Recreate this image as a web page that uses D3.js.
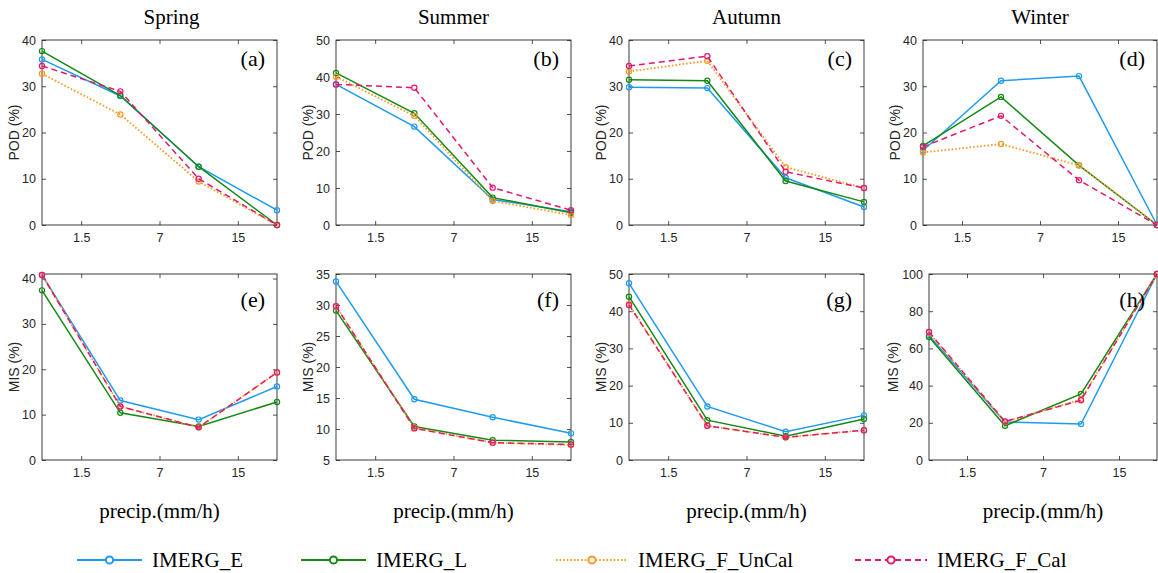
<!DOCTYPE html>
<html>
<head>
<meta charset="utf-8">
<script src="https://cdn.jsdelivr.net/npm/d3@7"></script>
<style>
  body { margin: 0; background: #fff; }
  .tick text { font-family: "Liberation Sans", Arial, sans-serif; font-size: 12.5px; fill: #262626; }
  .tick line { stroke: #262626; stroke-width: 0.8; }
  .serif { font-family: "Liberation Serif", "Times New Roman", serif; fill: #000; }
</style>
</head>
<body>
<script>
const seasons = ['Spring', 'Summer', 'Autumn', 'Winter'];
const panelTags = [['(a)', '(b)', '(c)', '(d)'], ['(e)', '(f)', '(g)', '(h)']];
const thresholds = ['1.5', '7', '15'];
const seriesNames = ['IMERG_E', 'IMERG_L', 'IMERG_F_UnCal', 'IMERG_F_Cal'];

// POD (%) per season, 4 precip classes each
const podE     = [[35.8, 27.9, 12.6, 3.2], [38.0, 26.6, 6.9, 3.6], [29.8, 29.6, 10.2, 3.9], [16.1, 31.2, 32.2, 0]];
const podL     = [[37.6, 28.0, 12.6, 0],   [41.1, 30.2, 7.4, 3.3], [31.4, 31.2, 9.5, 5.0],  [17.1, 27.7, 12.9, 0]];
const podUnCal = [[32.7, 23.9, 9.4, 0],    [40.1, 29.5, 6.5, 2.7], [33.2, 35.5, 12.5, 8.0], [15.7, 17.5, 12.9, 0]];
const podCal   = [[34.4, 28.9, 10.0, 0],   [38.0, 37.1, 10.1, 4.0], [34.4, 36.5, 11.5, 8.0], [16.9, 23.6, 9.7, 0]];

// MIS (%)
const misE     = [[40.8, 13.1, 8.9, 16.2], [33.8, 14.8, 11.9, 9.3], [47.5, 14.4, 7.6, 12.0], [67.0, 20.4, 19.3, 100]];
const misL     = [[37.4, 10.4, 7.4, 12.8], [29.1, 10.4, 8.2, 7.9],  [43.9, 10.7, 6.4, 11.0], [66.1, 18.4, 35.5, 100]];
const misUnCal = [[40.8, 11.8, 7.2, 19.3], [29.8, 10.2, 7.8, 7.4],  [41.9, 9.2, 6.1, 8.0],   [68.5, 20.4, 32.6, 100]];
const misCal   = [[40.8, 11.8, 7.2, 19.3], [29.8, 10.1, 7.8, 7.5],  [41.7, 9.2, 6.1, 8.0],   [68.8, 20.7, 32.1, 100]];

const podDomains = [[0, 40], [0, 50], [0, 40], [0, 40]];
const misDomains = [[0, 41], [5, 35], [0, 50], [0, 100]];
const podTicks = [[0, 10, 20, 30, 40], [0, 10, 20, 30, 40, 50], [0, 10, 20, 30, 40], [0, 10, 20, 30, 40]];
const misTicks = [[0, 10, 20, 30, 40], [5, 10, 15, 20, 25, 30, 35], [0, 10, 20, 30, 40, 50], [0, 20, 40, 60, 80, 100]];

const styles = [
  { color: '#1e9bf0', dash: null, width: 1.5 },
  { color: '#148a14', dash: null, width: 1.5 },
  { color: '#f79a24', dash: '1.6,2', width: 1.8 },
  { color: '#e3176e', dash: '6,4', width: 1.5 }
];

const W = 1158, H = 573;
const svg = d3.select('body').append('svg').attr('width', W).attr('height', H);

// panel boxes [left, right] per row, [top, bottom]
const rows = [
  { lefts: [42, 336, 629, 923], rights: [277, 571, 864, 1157], top: 40, bottom: 225,
    data: [podE, podL, podUnCal, podCal], domains: podDomains, ticks: podTicks, label: 'POD (%)', tagDy: 26 },
  { lefts: [42, 336, 629, 929], rights: [277, 571, 864, 1157], top: 274, bottom: 460,
    data: [misE, misL, misUnCal, misCal], domains: misDomains, ticks: misTicks, label: 'MIS (%)', tagDy: 33 }
];
const titleShift = [12, 0, 0, 0];

rows.forEach((row, r) => {
  seasons.forEach((season, s) => {
    const x0 = row.lefts[s], x1 = row.rights[s];
    const x = d3.scaleLinear().domain([0, 3]).range([x0, x1]);
    const y = d3.scaleLinear().domain(row.domains[s]).range([row.bottom, row.top]);
    const g = svg.append('g');

    const tickVals = [0.5, 1.5, 2.5];
    g.append('g').attr('transform', `translate(0,${row.bottom})`)
      .call(d3.axisBottom(x).tickValues(tickVals).tickFormat((d, i) => thresholds[i]).tickSize(-4).tickPadding(8));
    g.append('g').attr('transform', `translate(0,${row.top})`)
      .call(d3.axisTop(x).tickValues(tickVals).tickFormat('').tickSize(-4));
    g.append('g').attr('transform', `translate(${x0},0)`)
      .call(d3.axisLeft(y).tickValues(row.ticks[s]).tickSize(-4).tickPadding(6));
    g.append('g').attr('transform', `translate(${x1},0)`)
      .call(d3.axisRight(y).tickValues(row.ticks[s]).tickFormat('').tickSize(-4));
    g.selectAll('.domain').remove();

    g.append('rect')
      .attr('x', x0).attr('y', row.top)
      .attr('width', x1 - x0).attr('height', row.bottom - row.top)
      .attr('fill', 'none').attr('stroke', '#262626').attr('stroke-width', 0.9);

    const line = d3.line().x((d, i) => x(i)).y(d => y(d));
    row.data.forEach((ser, k) => {
      const st = styles[k];
      const vals = ser[s];
      g.append('path').datum(vals)
        .attr('d', line)
        .attr('fill', 'none')
        .attr('stroke', st.color)
        .attr('stroke-width', st.width)
        .attr('stroke-dasharray', st.dash);
      g.selectAll(null).data(vals).enter().append('circle')
        .attr('cx', (d, i) => x(i)).attr('cy', d => y(d))
        .attr('r', 2.6)
        .attr('fill', 'none')
        .attr('stroke', st.color)
        .attr('stroke-width', 1.2);
    });

    // y label
    const yl = x0 - (r === 1 && s === 3 ? 31 : 23);
    g.append('text')
      .attr('transform', `translate(${yl},${(row.top + row.bottom) / 2}) rotate(-90)`)
      .attr('text-anchor', 'middle')
      .style('font-family', '"Liberation Sans", Arial, sans-serif')
      .style('font-size', '14px')
      .attr('fill', '#262626')
      .text(row.label);

    // panel tag
    g.append('text').attr('class', 'serif')
      .attr('x', x1 - 12).attr('y', row.top + row.tagDy)
      .attr('text-anchor', 'end')
      .style('font-size', '22px')
      .text(panelTags[r][s]);

    if (r === 0) {
      g.append('text').attr('class', 'serif')
        .attr('x', (x0 + x1) / 2 + titleShift[s]).attr('y', 24)
        .attr('text-anchor', 'middle')
        .style('font-size', '21px')
        .text(season);
    } else {
      g.append('text').attr('class', 'serif')
        .attr('x', (x0 + x1) / 2).attr('y', 518)
        .attr('text-anchor', 'middle')
        .style('font-size', '21px')
        .text('precip.(mm/h)');
    }
  });
});

// legend
const legendX = [77, 301, 556, 855];
const legendY = 560;
seriesNames.forEach((name, k) => {
  const st = styles[k];
  const lx = legendX[k];
  const len = k < 2 ? 65 : 72;
  const lg = svg.append('g');
  lg.append('line')
    .attr('x1', lx).attr('x2', lx + len)
    .attr('y1', legendY).attr('y2', legendY)
    .attr('stroke', st.color).attr('stroke-width', st.width + 0.3)
    .attr('stroke-dasharray', st.dash);
  lg.append('circle')
    .attr('cx', lx + len / 2).attr('cy', legendY).attr('r', 3.6)
    .attr('fill', '#fff').attr('stroke', st.color).attr('stroke-width', 2);
  lg.append('text').attr('class', 'serif')
    .attr('x', lx + len + 10).attr('y', legendY + 7)
    .style('font-size', '21px')
    .text(name);
});
</script>
</body>
</html>
